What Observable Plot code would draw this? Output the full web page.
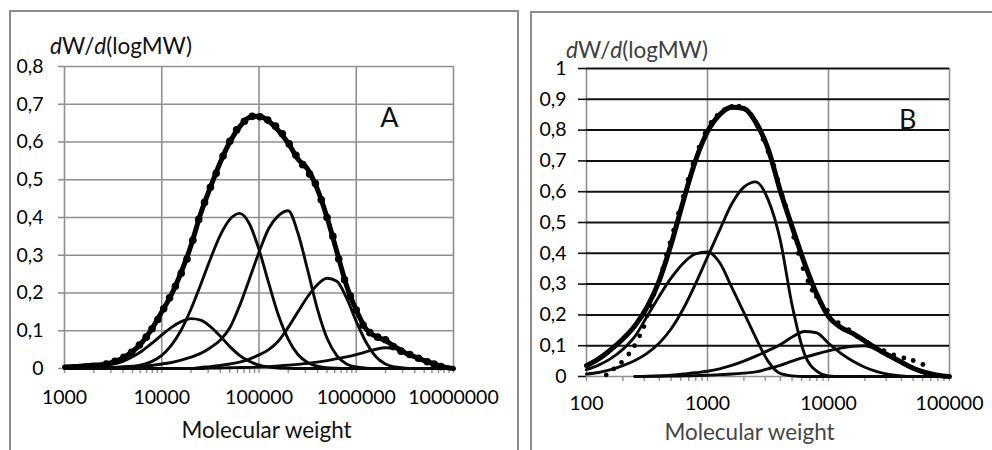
<!DOCTYPE html>
<html><head><meta charset="utf-8">
<script src="https://cdn.jsdelivr.net/npm/d3@7"></script>
<script src="https://cdn.jsdelivr.net/npm/@observablehq/plot@0.6"></script>
<style>
body{margin:0;background:#fff;width:992px;height:450px;position:relative;overflow:hidden;font-family:Lato,sans-serif}
.frame{position:absolute;border:2px solid #8c8c8c;box-sizing:border-box}
.plot{position:absolute;top:0}
.yt{position:absolute;font-size:22.5px;line-height:24px;white-space:nowrap}
</style></head><body>
<div class="frame" style="left:9px;top:10px;width:510px;height:470px"></div>
<div class="frame" style="left:530px;top:11px;width:480px;height:470px"></div>
<div id="a" class="plot" style="left:0px"></div>
<div id="b" class="plot" style="left:520px"></div>
<div class="yt" style="left:50px;top:34px;color:#111"><i>d</i>W/<i>d</i>(logMW)</div>
<div class="yt" style="left:566px;top:38px;color:#404040"><i>d</i>W/<i>d</i>(logMW)</div>
<script>
// ---------- Panel A data (x as log10 of molecular weight) ----------
const logA = [3.0,3.1,3.2,3.3,3.4,3.5,3.6,3.7,3.8,3.9,4.0,4.1,4.2,4.3,4.4,4.5,4.6,4.7,4.8,4.9,5.0,5.1,5.2,5.3,5.4,5.5,5.6,5.7,5.8,5.9,6.0,6.1,6.2,6.3,6.4,6.5,6.6,6.7,6.8,6.9,7.0];
const totalA = [0.004,0.005,0.007,0.009,0.011,0.017,0.028,0.045,0.07,0.106,0.15,0.196,0.255,0.325,0.41,0.48,0.545,0.6,0.64,0.665,0.668,0.655,0.63,0.597,0.555,0.528,0.475,0.4,0.31,0.22,0.155,0.105,0.085,0.074,0.057,0.042,0.031,0.021,0.012,0.004,0];
const comp1A = [0.002,0.0025,0.003,0.0045,0.007,0.012,0.019,0.031,0.047,0.067,0.089,0.109,0.124,0.132,0.128,0.111,0.086,0.058,0.035,0.019,0.009,0.004,0.0015,0.0005,0,0,0,0,0,0,0,0,0,0,0,0,0,0,0,0,0];
const comp2A = [0.001,0.0012,0.0015,0.002,0.0025,0.003,0.004,0.006,0.01,0.019,0.035,0.062,0.102,0.157,0.222,0.29,0.352,0.395,0.411,0.384,0.315,0.226,0.141,0.078,0.037,0.016,0.006,0.002,0.0005,0,0,0,0,0,0,0,0,0,0,0,0];
const comp3A = [0.001,0.0015,0.002,0.0025,0.003,0.003,0.004,0.005,0.006,0.008,0.012,0.016,0.022,0.03,0.04,0.055,0.075,0.108,0.166,0.236,0.308,0.371,0.405,0.418,0.359,0.261,0.158,0.08,0.034,0.012,0.004,0.001,0,0,0,0,0,0,0,0,0];
const comp4A = [0,0,0,0,0,0,0,0,0,0,0,0,0,0,0.003,0.005,0.008,0.012,0.017,0.025,0.036,0.05,0.073,0.109,0.15,0.19,0.222,0.239,0.231,0.187,0.125,0.07,0.032,0.012,0.004,0.001,0,0,0,0,0];
const comp5A = [0,0,0,0,0,0,0,0,0,0,0,0,0,0,0,0.001,0.0015,0.002,0.0025,0.003,0.004,0.005,0.007,0.009,0.011,0.014,0.017,0.021,0.026,0.031,0.037,0.044,0.051,0.055,0.053,0.043,0.033,0.022,0.013,0.004,0];
const dotLogA = [3.43,3.52,3.61,3.69,3.77,3.84,3.90,3.96,4.02,4.08,4.14,4.20,4.26,4.32,4.38,4.44,4.50,4.56,4.63,4.70,4.77,4.85,4.93,5.01,5.09,5.17,5.24,5.31,5.38,5.45,5.52,5.58,5.64,5.70,5.76,5.82,5.88,5.94,6.00,6.07,6.14,6.22,6.30,6.38,6.46,6.55,6.64,6.73,6.80,6.87];
const dotValA = [0.012,0.019,0.03,0.043,0.062,0.083,0.105,0.13,0.158,0.187,0.218,0.252,0.29,0.34,0.395,0.44,0.48,0.517,0.563,0.602,0.632,0.655,0.668,0.667,0.658,0.642,0.622,0.595,0.565,0.54,0.515,0.49,0.447,0.4,0.35,0.29,0.235,0.192,0.155,0.115,0.095,0.083,0.076,0.058,0.046,0.037,0.027,0.018,0.012,0.005];
const xLabelsA = ["1000","10000","100000","1000000","10000000"];
const yTicksA = [0,0.1,0.2,0.3,0.4,0.5,0.6,0.7,0.8];

// ---------- Panel B data ----------
const logB = [2.0,2.1,2.2,2.3,2.4,2.5,2.6,2.7,2.8,2.9,3.0,3.1,3.2,3.3,3.4,3.5,3.6,3.7,3.8,3.9,4.0,4.1,4.2,4.3,4.4,4.5,4.6,4.7,4.8,4.9,5.0];
const totalB = [0.035,0.057,0.087,0.122,0.165,0.225,0.31,0.43,0.57,0.7,0.795,0.85,0.874,0.87,0.825,0.74,0.605,0.485,0.37,0.27,0.195,0.16,0.14,0.115,0.09,0.068,0.047,0.027,0.013,0.004,0];
const comp1B = [0.022,0.037,0.058,0.088,0.13,0.195,0.26,0.32,0.368,0.398,0.404,0.37,0.29,0.208,0.125,0.05,0.01,0.002,0,0,0,0,0,0,0,0,0,0,0,0,0];
const comp2B = [0.008,0.013,0.022,0.035,0.052,0.075,0.108,0.155,0.22,0.3,0.388,0.475,0.56,0.615,0.632,0.575,0.445,0.23,0.075,0.018,0.002,0,0,0,0,0,0,0,0,0,0];
const comp3B = [null,null,null,null,0,0.001,0.002,0.004,0.008,0.012,0.017,0.025,0.036,0.05,0.066,0.084,0.103,0.128,0.146,0.142,0.108,0.076,0.05,0.03,0.016,0.007,0.002,0,0,0,0];
const comp4B = [null,null,null,null,0,0.0005,0.001,0.0015,0.002,0.003,0.004,0.006,0.008,0.011,0.015,0.025,0.036,0.05,0.062,0.073,0.083,0.092,0.098,0.1,0.088,0.068,0.045,0.025,0.011,0.003,0];
const dotLogB = [2.163,2.226,2.289,2.35,2.397,2.44,2.474,2.50,2.53,2.556,2.59,2.63,2.66,2.69,2.72,2.76,2.80,2.84,2.88,2.93,2.98,3.03,3.08,3.14,3.20,3.26,3.31,3.36,3.41,3.46,3.50,3.548,3.58,3.617,3.645,3.68,3.713,3.75,3.79,3.83,3.865,3.90,3.934,3.99,4.08,4.168,4.237,4.32,4.388,4.457,4.54,4.623,4.70,4.78];
const dotValB = [0.005,0.025,0.046,0.073,0.1,0.132,0.162,0.197,0.23,0.266,0.3,0.35,0.395,0.434,0.475,0.53,0.585,0.64,0.69,0.745,0.79,0.825,0.848,0.866,0.877,0.878,0.868,0.85,0.815,0.77,0.73,0.685,0.64,0.588,0.555,0.505,0.452,0.4,0.35,0.31,0.28,0.26,0.24,0.215,0.175,0.152,0.13,0.111,0.095,0.084,0.07,0.06,0.052,0.039];
const xLabelsB = ["100","1000","10000","100000"];
const yTicksB = [0,0.1,0.2,0.3,0.4,0.5,0.6,0.7,0.8,0.9,1];

const xTitle = "Molecular weight";

function rows(logs, series) {
  return logs.map((v, i) => {
    const r = {mw: Math.pow(10, v)};
    for (const k in series) r[k] = series[k][i];
    return r;
  });
}
const fmtY = d => String(d).replace(".", ",");
const GRID = "#8f8f8f";

function panel(opts) {
  const data = rows(opts.logs, opts.series);
  const dots = opts.dotLog.map((v, i) => ({mw: Math.pow(10, v), y: opts.dotVal[i]}));
  const allTicks = d3.scaleLog().domain(opts.xDomain).ticks();
  const majors = allTicks.filter(d => opts.xLabels.includes(String(d)));
  const comps = Object.keys(opts.series).filter(k => k !== "total");
  return Plot.plot({
    width: opts.width, height: 450,
    marginLeft: opts.ml, marginRight: opts.mr, marginTop: opts.mt, marginBottom: opts.mb,
    style: {fontFamily: "Lato, sans-serif", fontSize: "19.5px", color: "#000", background: "transparent", overflow: "visible"},
    x: {type: "log", domain: opts.xDomain, label: null},
    y: {domain: [0, opts.yTicks[opts.yTicks.length - 1]], label: null},
    marks: [
      Plot.gridX(majors, {stroke: GRID, strokeOpacity: 1, strokeWidth: 1.6}),
      Plot.gridY(opts.yTicks.filter(d => d > 0), {stroke: opts.hGrid, strokeOpacity: 1, strokeWidth: opts.hGridW}),
      Plot.ruleY([0], {stroke: GRID, strokeWidth: 1.6}),
      Plot.axisY(opts.yTicks, {tickSize: opts.yTickSize, tickPadding: opts.yPad, stroke: opts.hGrid, strokeWidth: 1.6, tickFormat: fmtY, label: null, fontSize: 19.5}),
      Plot.axisX(allTicks, {tickSize: 5, tickPadding: opts.xPad, stroke: GRID, strokeWidth: 1.4, label: null, fontSize: 19.5,
        tickFormat: d => opts.xLabels.includes(String(d)) ? String(d) : ""}),
      ...comps.map(k => Plot.line(data, {x: "mw", y: k, stroke: "#0a0a0a", strokeWidth: 2.9, curve: "monotone-x"})),
      Plot.line(data, {x: "mw", y: "total", stroke: "#000", strokeWidth: 5, curve: "monotone-x"}),
      Plot.dot(dots, {x: "mw", y: "y", r: opts.dotR, fill: "#000", stroke: null}),
      Plot.text([opts.letter], {frameAnchor: "top-right", dx: opts.letterDx, dy: 52, textAnchor: "end", lineAnchor: "middle", fontSize: 27, fill: "#111"}),
      Plot.text([xTitle], {frameAnchor: "bottom", dx: opts.titleDx, dy: opts.titleDy, lineAnchor: "middle", fontSize: 22.5, fill: opts.titleColor})
    ]
  });
}

document.getElementById("a").appendChild(panel({
  width: 496, ml: 64, mr: 43, mt: 66, mb: 82,
  logs: logA,
  series: {total: totalA, c1: comp1A, c2: comp2A, c3: comp3A, c4: comp4A, c5: comp5A},
  dotLog: dotLogA, dotVal: dotValA, dotR: 3.8,
  xDomain: [1e3, 1e7], xLabels: xLabelsA, yTicks: yTicksA,
  hGrid: GRID, hGridW: 1.6, yTickSize: 6, yPad: 15, xPad: 17,
  letter: "A", letterDx: -55, titleDx: 7.5, titleDy: 62, titleColor: "#111"
}));
document.getElementById("b").appendChild(panel({
  width: 472, ml: 66, mr: 43, mt: 68, mb: 74,
  logs: logB,
  series: {total: totalB, c1: comp1B, c2: comp2B, c3: comp3B, c4: comp4B},
  dotLog: dotLogB, dotVal: dotValB, dotR: 2.4,
  xDomain: [1e2, 1e5], xLabels: xLabelsB, yTicks: yTicksB,
  hGrid: "#111", hGridW: 2, yTickSize: 8, yPad: 12, xPad: 15,
  letter: "B", letterDx: -33, titleDx: -18.5, titleDy: 56, titleColor: "#454545"
}));
</script>
</body></html>
